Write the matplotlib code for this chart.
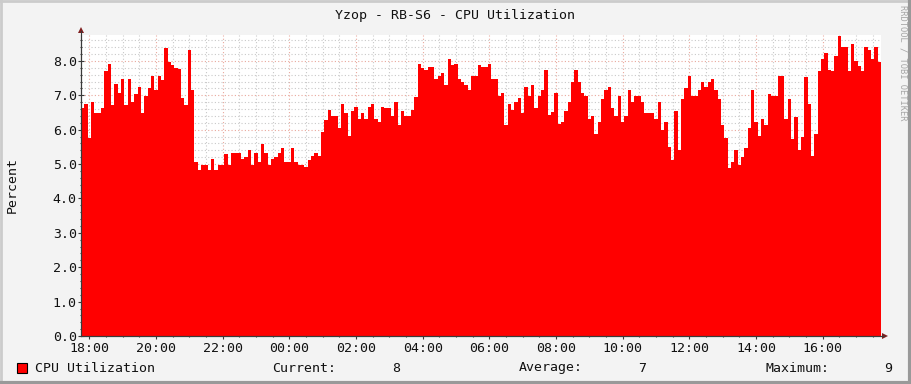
import matplotlib
matplotlib.use("Agg")
import matplotlib.pyplot as plt
from matplotlib.patches import Polygon, Rectangle
from matplotlib.lines import Line2D
import numpy as np

title = "Yzop - RB-S6 - CPU Utilization"
y_label = "Percent"
series_name = "CPU Utilization"
stat_labels = ["Current:", "Average:", "Maximum:"]
stat_values = ["8", "7", "9"]

# time axis in hours (17.75 = 17:45 on day 1, 41.75 = 17:45 next day)
t_start = 17.75
t_end = 41.75
x_tick_pos = [18, 20, 22, 24, 26, 28, 30, 32, 34, 36, 38, 40]
x_tick_labels = ["18:00", "20:00", "22:00", "00:00", "02:00", "04:00",
                 "06:00", "08:00", "10:00", "12:00", "14:00", "16:00"]
y_tick_pos = [0, 1, 2, 3, 4, 5, 6, 7, 8]
y_tick_labels = ["0.0", "1.0", "2.0", "3.0", "4.0", "5.0", "6.0", "7.0", "8.0"]

cpu = [
    6.64, 6.75, 5.75, 6.8, 6.49, 6.49, 6.64, 7.72, 7.9, 6.72, 7.32, 7.07, 7.48, 6.72, 7.48,
    6.8, 7.04, 7.24, 6.49, 6.98, 7.22, 7.56, 7.17, 7.56, 7.44, 8.37, 7.98, 7.88, 7.8, 7.77,
    6.92, 6.72, 8.32, 7.16, 5.07, 4.83, 4.97, 4.97, 4.83, 5.15, 4.83, 4.97, 4.97, 5.29,
    4.97, 5.33, 5.33, 5.33, 5.15, 5.2, 5.41, 4.97, 5.33, 5.07, 5.59, 5.33, 4.97, 5.15, 5.2,
    5.33, 5.47, 5.07, 5.07, 5.47, 5.07, 4.97, 4.97, 4.92, 5.12, 5.24, 5.33, 5.24, 5.92, 6.27,
    6.57, 6.4, 6.4, 6.05, 6.75, 6.49, 5.83, 6.55, 6.66, 6.31, 6.49, 6.31, 6.66,
    6.75, 6.31, 6.23, 6.66, 6.63, 6.63, 6.4, 6.81, 6.15, 6.55, 6.4, 6.4, 6.57, 6.95, 7.9,
    7.8, 7.73, 7.83, 7.83, 7.48, 7.56, 7.65, 7.3, 8.06, 7.88, 7.9, 7.48, 7.39, 7.3, 7.16,
    7.56, 7.56, 7.88, 7.83, 7.83, 7.9, 7.47, 7.48, 6.98, 7.07, 6.15, 6.75, 6.57, 6.81, 6.92,
    6.49, 7.24, 6.98, 7.3, 6.63, 6.98, 7.16, 7.74, 6.43, 6.52, 7.07, 6.18, 6.23, 6.55, 6.81,
    7.39, 7.74, 7.39, 7.07, 6.98, 6.31, 6.4, 5.89, 6.23, 6.89, 7.16, 7.24, 6.63, 6.4, 6.98,
    6.23, 6.4, 7.16, 6.81, 6.98, 6.98, 6.81, 6.49, 6.49, 6.49, 6.31, 6.81, 6.0, 6.23, 5.51,
    5.12, 6.55, 5.41, 6.89, 7.21, 7.56, 6.98, 6.98, 7.16, 7.39, 7.24, 7.39, 7.48, 7.16, 6.89,
    6.15, 5.77, 4.9, 5.07, 5.41, 4.97, 5.2, 5.47, 6.05, 7.16, 6.23, 5.83, 6.31, 6.15, 7.04,
    6.98, 6.98, 7.56, 7.56, 6.31, 6.89, 5.74, 6.37, 5.41,
    5.79, 7.53, 6.75, 5.25, 5.89, 7.71, 8.06, 8.23, 7.74, 7.71, 8.15, 8.73, 8.41, 8.41, 7.71,
    8.5, 8.0, 7.84, 7.71, 8.41, 8.32, 8.06, 8.41, 7.98,
]

W, H = 911, 384
FONT = "DejaVu Sans Mono"
BG = "#F3F3F3"
AXIS_C = "#3A3A3A"
ARROW_C = "#7F1F1F"
GRID_C = "#C9C9C9"
MGRID_C = "#E9A89C"

def fx(px):
    return px / W

def fy(py):
    return 1 - py / H

fig = plt.figure(figsize=(W / 100, H / 100), dpi=100, facecolor=BG)

L, R, T, B = 81, 881, 35, 336
ax = fig.add_axes([fx(L), fy(B), fx(R) - fx(L), fy(T) - fy(B)])
ax.set_facecolor("white")

n = len(cpu)
edges = np.linspace(t_start, t_end, n + 1)
vals = np.array(cpu + [cpu[-1]])
ax.fill_between(edges, 0, vals, step="post", color="#FF0000", lw=0, zorder=3)

ax.set_xlim(t_start, t_end)
ax.set_ylim(0, (B - T) / 34.375)

ax.set_xticks(x_tick_pos)
ax.set_xticklabels(x_tick_labels)
ax.set_xticks(np.arange(18, 41.8, 0.5), minor=True)
ax.set_yticks(y_tick_pos)
ax.set_yticklabels(y_tick_labels)
ax.set_yticks(np.arange(0, 8.76, 0.2), minor=True)

ax.grid(which="minor", color=GRID_C, linestyle=(0, (1, 2)), linewidth=0.8, zorder=1)
ax.grid(which="major", color=MGRID_C, linestyle=(0, (1, 2)), linewidth=0.8, zorder=2)
ax.set_axisbelow(True)

for s in ["top", "right"]:
    ax.spines[s].set_visible(False)
for s in ["left", "bottom"]:
    ax.spines[s].set_color(AXIS_C)
    ax.spines[s].set_linewidth(0.8)
    ax.spines[s].set_zorder(5)

ax.tick_params(which="both", direction="inout", length=4, width=0.8, color=AXIS_C,
               labelsize=9.5, labelcolor="#111111", pad=1)
ax.tick_params(which="minor", length=2)
ax.tick_params(axis="x", pad=2)
for lab in ax.get_xticklabels() + ax.get_yticklabels():
    lab.set_family(FONT)

# axis extensions and arrows
fig.add_artist(Line2D([fx(L), fx(L)], [fy(B), fy(31)], transform=fig.transFigure,
                      color=AXIS_C, lw=0.8))
fig.add_artist(Line2D([fx(L), fx(884)], [fy(B), fy(B)], transform=fig.transFigure,
                      color=AXIS_C, lw=0.8))
fig.add_artist(Polygon([[fx(L - 3), fy(33)], [fx(L + 3), fy(33)], [fx(L), fy(27)]],
                       closed=True, transform=fig.transFigure, color=ARROW_C, lw=0))
fig.add_artist(Polygon([[fx(882), fy(B - 3)], [fx(882), fy(B + 3)], [fx(888), fy(B)]],
                       closed=True, transform=fig.transFigure, color=ARROW_C, lw=0))

# title and labels
fig.text(fx(455), fy(15), title, ha="center", va="center", family=FONT, fontsize=9.5,
         color="#111111")
fig.text(fx(12), fy(185), y_label, ha="center", va="center", rotation=90,
         family=FONT, fontsize=9.5, color="#111111")
fig.text(fx(903), fy(5), "RRDTOOL / TOBI OETIKER", ha="center", va="top",
         rotation=270, family=FONT, fontsize=6.3, color="#A5A5A5")

# legend
fig.add_artist(Rectangle((fx(17), fy(373)), fx(10), fy(363) - fy(373),
                         transform=fig.transFigure, facecolor="#FF0000",
                         edgecolor="black", lw=0.8))
fig.text(fx(35), fy(368), series_name, ha="left", va="center", family=FONT, fontsize=9.5,
         color="#111111")
stat_x = [272, 519, 765]
val_x = [400, 646, 892]
for lx, vx, lt, vt in zip(stat_x, val_x, stat_labels, stat_values):
    fig.text(fx(lx), fy(368), lt, ha="left", va="center", family=FONT, fontsize=9.5,
             color="#111111")
    fig.text(fx(vx), fy(368), vt, ha="right", va="center", family=FONT, fontsize=9.5,
             color="#111111")

# 3D frame
fig.add_artist(Line2D([0, 1], [fy(1), fy(1)], transform=fig.transFigure, color="#CBCBCB", lw=2))
fig.add_artist(Line2D([fx(1), fx(1)], [0, 1], transform=fig.transFigure, color="#CBCBCB", lw=2))
fig.add_artist(Line2D([0, 1], [fy(382.5), fy(382.5)], transform=fig.transFigure, color="#999999", lw=3))
fig.add_artist(Line2D([fx(909.5), fx(909.5)], [0, 1], transform=fig.transFigure, color="#999999", lw=3))

fig.savefig("out.png", dpi=100, facecolor=BG)
